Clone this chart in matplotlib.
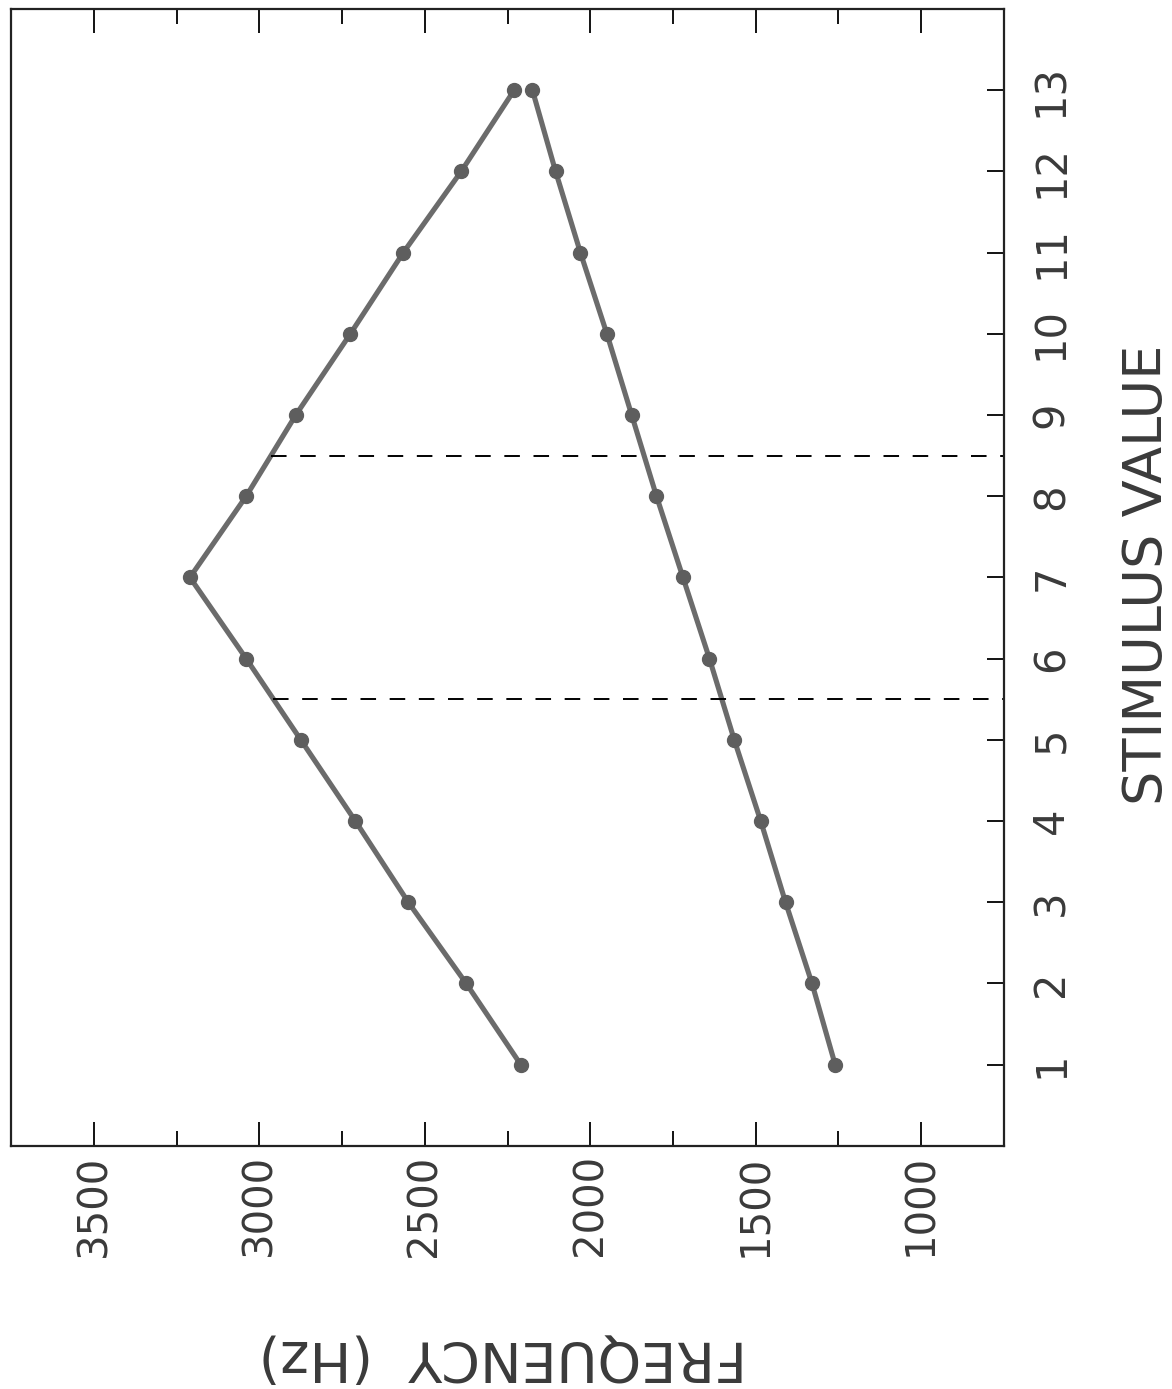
import numpy as np
import matplotlib
matplotlib.use('Agg')
import matplotlib.pyplot as plt
from matplotlib.ticker import MultipleLocator

# stimulus values (drawn on the vertical axis, the figure is turned on its side)
stimulus = [1, 2, 3, 4, 5, 6, 7, 8, 9, 10, 11, 12, 13]
# upper curve (Hz)
upper_hz = [2210, 2375, 2550, 2710, 2875, 3040, 3210, 3040, 2890, 2725, 2565, 2390, 2230]
# lower curve (Hz)
lower_hz = [1260, 1330, 1410, 1485, 1565, 1640, 1720, 1800, 1875, 1950, 2030, 2105, 2175]
# category boundaries
boundaries = [5.5, 8.5]
freq_ticks = [1000, 1500, 2000, 2500, 3000, 3500]
freq_labels = ['1000', '1500', '2000', '2500', '3000', '3500']

plt.rcParams['font.family'] = ['DejaVu Sans']
text_col = '#3a3a3a'
line_col = '#6b6b6b'

fig = plt.figure(figsize=(11.72, 13.89), dpi=100)
ax = fig.add_axes([0.0096, 0.175, 0.847, 0.8186])

ax.plot(upper_hz, stimulus, color=line_col, lw=3.7, marker='o', ms=10,
        mfc='#5e5e5e', mec='#5e5e5e', solid_capstyle='round')
ax.plot(lower_hz, stimulus, color=line_col, lw=3.7, marker='o', ms=10,
        mfc='#5e5e5e', mec='#5e5e5e', solid_capstyle='round')

# dashed lines start at the upper curve and run to the right frame
up_order = np.argsort(stimulus)
for b in boundaries:
    start = np.interp(b, np.array(stimulus)[up_order], np.array(upper_hz)[up_order])
    ax.plot([start, 750], [b, b], color='black', lw=1.4, ls=(0, (8, 7)))

ax.set_xlim(3750, 750)
ax.set_ylim(0, 14)

ax.set_xticks(freq_ticks)
ax.set_xticklabels(freq_labels, rotation=90, fontsize=29, color=text_col)
ax.xaxis.set_minor_locator(MultipleLocator(250))
ax.tick_params(axis='x', which='major', direction='in', length=17, width=1.3,
               top=True, bottom=True, pad=6)
ax.tick_params(axis='x', which='minor', direction='in', length=11, width=1.3,
               top=True, bottom=True)

ax.yaxis.tick_right()
ax.set_yticks(stimulus)
ax.set_yticklabels([str(s) for s in stimulus], rotation=90, fontsize=30,
                   color=text_col, va='center')
ax.tick_params(axis='y', which='major', direction='in', length=12, width=1.3,
               left=False, right=True, pad=19)

for sp in ax.spines.values():
    sp.set_linewidth(1.6)
    sp.set_color('#222222')

fig.text(1147 / 1172, 1 - 575 / 1389, 'STIMULUS VALUE', rotation=90,
         fontsize=39, color=text_col, ha='center', va='center')
fig.text(503 / 1172, 1 - 1357 / 1389, 'FREQUENCY  (Hz)', rotation=180,
         fontsize=40, color=text_col, ha='center', va='center')

fig.savefig('out.png', dpi=100)
